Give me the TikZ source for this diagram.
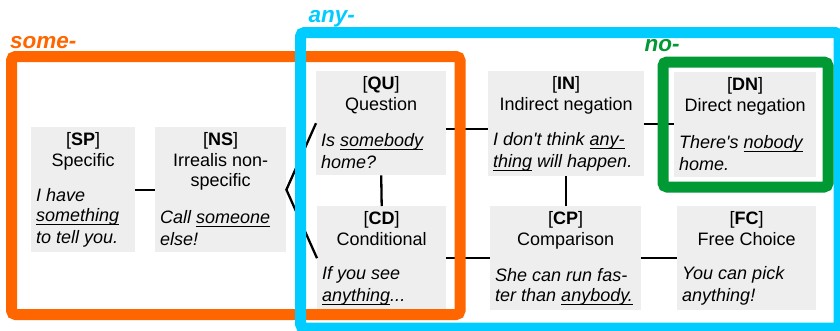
\documentclass[tikz,border=0pt]{standalone}
\usepackage{fontspec}
\setmainfont{Liberation Sans}
\definecolor{someor}{HTML}{FF6600}
\definecolor{anybl}{HTML}{00CCFF}
\definecolor{nogr}{HTML}{009933}
\definecolor{boxgray}{HTML}{EEEEEE}
\newsavebox\ulbox
\newcommand\myul[1]{\sbox\ulbox{#1}\rlap{\rule[-3.4pt]{\wd\ulbox}{1.2pt}}#1}
\newcommand\cellbox[4]{\vbox to #2{\offinterlineskip\hsize=#1\relax #3\vfil #4\vskip5pt}}
\newcommand\hl[1]{\hbox to \hsize{\hss\vrule height18pt depth2pt width0pt #1\hss}}
\newcommand\el[1]{\hbox to \hsize{\kern5pt\vrule height18pt depth2pt width0pt \itshape #1\hfil}}
\begin{document}
\begin{tikzpicture}[x=1pt,y=-1pt,
  cell/.style={anchor=north west,inner sep=0pt,fill=boxgray,font=\fontsize{18}{20}\selectfont},
  conn/.style={line width=2.3pt,black},
  frame/.style={line width=11pt,rounded corners=4pt},
  grouplabel/.style={anchor=base west,inner sep=0pt,font=\fontsize{22.5}{26}\selectfont\bfseries\itshape}]
\useasboundingbox (0,0) rectangle (840,330);
\clip (0,0) rectangle (840,330);
% boxes
\node[cell] (SP) at (31,127) {\cellbox{104pt}{125pt}{\hl{[\textbf{SP}]}\hl{Specific}}{\el{I have}\el{\myul{something}}\el{to tell you.}}};
\node[cell] (NS) at (155,127) {\cellbox{131pt}{125pt}{\hl{[\textbf{NS}]}\hl{Irrealis non-}\hl{specific}}{\el{Call \myul{someone}}\el{else!}}};
\node[cell] (QU) at (316,71) {\cellbox{130pt}{104pt}{\hl{[\textbf{QU}]}\hl{Question}}{\el{Is \myul{somebody}}\el{home?}}};
\node[cell] (CD) at (317,206) {\cellbox{129pt}{104pt}{\hl{[\textbf{CD}]}\hl{Conditional}}{\el{If you see}\el{\myul{anything}...}}};
\node[cell] (IN) at (488,71) {\cellbox{156pt}{105pt}{\hl{[\textbf{IN}]}\hl{Indirect negation}}{\el{I don\textquotesingle t think \myul{any-}}\el{\myul{thing} will happen.}}};
\node[cell] (DN) at (674,72) {\cellbox{142pt}{105pt}{\hl{[\textbf{DN}]}\hl{Direct negation}}{\el{There\textquotesingle s \myul{nobody}}\el{home.}}};
\node[cell] (CP) at (490,206) {\cellbox{151pt}{104pt}{\hl{[\textbf{CP}]}\hl{Comparison}}{\el{She can run fas-}\el{ter than \myul{anybody.}}}};
\node[cell] (FC) at (677,206) {\cellbox{139pt}{104pt}{\hl{[\textbf{FC}]}\hl{Free Choice}}{\el{You can pick}\el{anything!}}};
% connectors
\draw[conn] (SP.east) -- (NS.west);
\draw[conn] (QU.west) -- (NS.east) -- (CD.west);
\draw[conn] (QU.south) -- (CD.north);
\draw[conn] ([yshift=-6pt]QU.east) -- ([yshift=-6pt]QU.east -| IN.west);
\draw[conn] (IN.east) -- (IN.east -| DN.west);
\draw[conn] (IN.south) -- (IN.south |- CP.north);
\draw[conn] (CD.east) -- (CD.east -| CP.west);
\draw[conn] (CP.east) -- (CP.east -| FC.west);
% group frames
\draw[frame,someor] (11.5,56.5) rectangle (460,314.5);
\draw[frame,anybl] (300.5,32.5) rectangle (839,328);
\draw[frame,nogr] (663,62) rectangle (828,187);
% group labels
\node[grouplabel,text=someor] (lsome) at (10,48.5) {some-};
\node[grouplabel,text=anybl] (lany) at (308.5,22.5) {any-};
\node[grouplabel,text=nogr] (lno) at (644.5,51) {no-};
\end{tikzpicture}
\end{document}
